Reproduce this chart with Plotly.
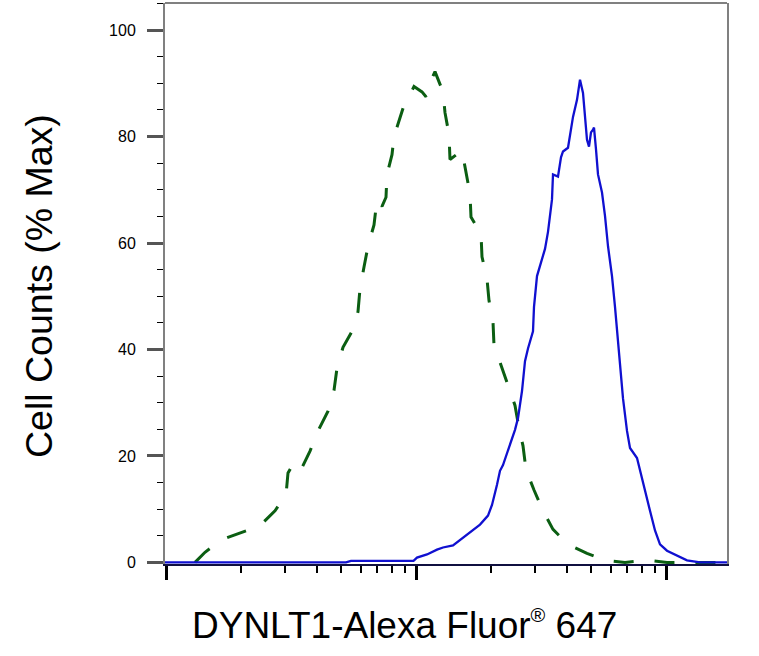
import numpy as np
import plotly.graph_objects as go

# -----------------------------
# Daten (log10 der Fluoreszenz, % Max)
# -----------------------------
# Isotypkontrolle (grün, gestrichelt)
green_log10 = [2.116, 2.156, 2.224, 2.296, 2.376, 2.436, 2.480, 2.488, 2.516, 2.544,
               2.576, 2.608, 2.648, 2.672, 2.684, 2.708, 2.744, 2.768, 2.776, 2.792,
               2.808, 2.832, 2.844, 2.864, 2.880, 2.884, 2.904, 2.912, 2.936, 2.956,
               2.972, 2.992, 3.024, 3.040, 3.056, 3.076, 3.108, 3.116, 3.132, 3.136,
               3.184, 3.200, 3.216, 3.220, 3.260, 3.264, 3.284, 3.292, 3.308, 3.312,
               3.336, 3.368, 3.396, 3.412, 3.428, 3.440, 3.472, 3.508, 3.548, 3.608,
               3.684, 3.756, 3.836, 3.928, 4.004, 4.244]
green_pct = [0, 1.9, 4.3, 5.6, 6.9, 9.7, 12.7, 16.8, 19.1, 17.8,
             20.9, 24.7, 28.4, 32.3, 36.5, 40.4, 43.4, 47.1, 51.4, 55.5,
             59.4, 63.4, 68.2, 66.9, 68.6, 72.9, 76.6, 80.0, 83.7, 86.5,
             87.5, 89.4, 88.4, 87.5, 90.1, 92.2, 88.4, 84.5, 80.4, 75.7,
             77.4, 72.9, 69.2, 64.9, 61.7, 57.4, 53.3, 49.2, 45.2, 40.8,
             37.4, 33.3, 29.5, 25.2, 21.9, 17.4, 13.6, 9.7, 6.2, 3.4,
             1.7, 0.4, 0, 0.4, 0, 0]

# DYNLT1-Färbung (blau)
blue_log10 = [1.996, 2.720, 2.740, 2.990, 3.004, 3.044, 3.084, 3.108, 3.148, 3.188,
              3.224, 3.256, 3.288, 3.304, 3.324, 3.336, 3.348, 3.368, 3.396, 3.408,
              3.424, 3.436, 3.448, 3.468, 3.472, 3.484, 3.496, 3.516, 3.528, 3.544,
              3.548, 3.568, 3.580, 3.588, 3.608, 3.616, 3.628, 3.644, 3.656, 3.668,
              3.676, 3.684, 3.692, 3.700, 3.708, 3.712, 3.720, 3.728, 3.744, 3.756,
              3.768, 3.784, 3.796, 3.804, 3.816, 3.828, 3.844, 3.856, 3.884, 3.896,
              3.916, 3.936, 3.956, 3.976, 4.004, 4.044, 4.084, 4.136, 4.244]
blue_pct = [0, 0, 0.3, 0.3, 0.9, 1.5, 2.4, 2.8, 3.2, 4.7,
            6.0, 7.1, 8.8, 10.8, 14.6, 17.2, 18.3, 20.9, 24.9, 27.1,
            32.2, 37.8, 40.2, 43.4, 48.0, 53.8, 55.7, 58.9, 62.1, 68.2,
            72.9, 72.5, 76.1, 77.2, 77.9, 80.0, 83.7, 86.9, 90.7, 88.2,
            83.7, 79.4, 78.1, 80.8, 81.3, 81.7, 77.6, 72.9, 69.5, 65.1,
            59.4, 53.8, 48.0, 43.4, 37.1, 30.8, 24.7, 21.5, 19.6, 17.2,
            13.6, 9.7, 6.0, 3.4, 2.2, 1.3, 0.4, 0, 0]

x_major = [100, 1000, 10000]
x_minor = [m * d for d in (100, 1000) for m in range(2, 10)]
y_major = [0, 20, 40, 60, 80, 100]

x_title = "DYNLT1-Alexa Fluor<sup><span style='font-size:20px'>®</span></sup> 647"
y_title = "Cell Counts (% Max)"

FONT = "Liberation Sans, Arial, sans-serif"

# -----------------------------
# Figur
# -----------------------------
fig = go.Figure()
fig.add_trace(go.Scatter(
    x=np.power(10.0, green_log10), y=green_pct, mode="lines",
    line=dict(color="#0b5e12", width=3, dash="20px,21px"),
    showlegend=False,
))
fig.add_trace(go.Scatter(
    x=np.power(10.0, blue_log10), y=blue_pct, mode="lines",
    line=dict(color="#1010d0", width=2.3),
    showlegend=False,
))

fig.update_xaxes(
    type="log", range=[1.996, 4.244],
    tickmode="array", tickvals=x_major, showticklabels=False,
    ticks="outside", ticklen=14, tickwidth=3, tickcolor="black",
    minor=dict(tickmode="array", tickvals=x_minor, ticks="outside",
               ticklen=7, tickwidth=1.5, tickcolor="black"),
    showgrid=False, zeroline=False,
    showline=True, linecolor="#101040", linewidth=2,
)
fig.update_yaxes(
    range=[-0.3, 105.1],
    tickmode="array", tickvals=y_major,
    ticks="outside", ticklen=16, tickwidth=2.5, tickcolor="#555555",
    minor=dict(dtick=5, ticks="outside", ticklen=6, tickwidth=1,
               tickcolor="black"),
    tickfont=dict(family=FONT, size=16, color="black"),
    ticklabelstandoff=8,
    showgrid=False, zeroline=False,
    showline=True, linecolor="#808080", linewidth=2, mirror=True,
)

# Rahmen oben
fig.add_shape(type="line", xref="paper", yref="paper",
              x0=0, x1=1, y0=1, y1=1,
              line=dict(color="#808080", width=2))

fig.add_annotation(text=x_title, xref="paper", yref="paper",
                   x=0.4253, y=-0.1087, xanchor="center", yanchor="middle",
                   showarrow=False, font=dict(family=FONT, size=37, color="black"))
fig.add_annotation(text=y_title, xref="paper", yref="paper",
                   x=-0.2242, y=0.4955, xanchor="center", yanchor="middle",
                   textangle=-90, showarrow=False,
                   font=dict(family=FONT, size=37.5, color="black"))

fig.update_layout(
    width=759, height=656,
    margin=dict(l=165, r=32, t=3, b=92),
    plot_bgcolor="white", paper_bgcolor="white",
)

# Seitenrand des Browsers entfernen, damit die Figur bei (0, 0) beginnt
fig.write_html("out.html", config={"displayModeBar": False},
               post_script="document.body.style.margin = '0';")
